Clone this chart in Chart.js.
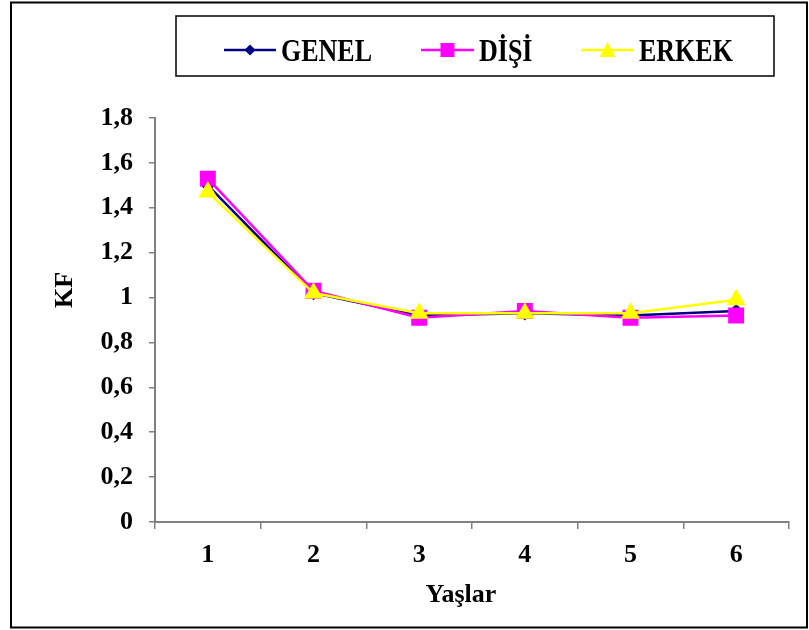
<!DOCTYPE html>
<html>
<head>
<meta charset="utf-8">
<script src="https://cdn.jsdelivr.net/npm/chart.js@4/dist/chart.umd.min.js"></script>
<style>
  html, body { margin: 0; padding: 0; background: #fff; }
  #wrap { position: relative; width: 809px; height: 630px; }
</style>
</head>
<body>
<div id="wrap"><canvas id="c" width="809" height="630"></canvas></div>
<script>
// ---- data ----
const categories = ['1', '2', '3', '4', '5', '6'];
const seriesNames = ['GENEL', 'DİŞİ', 'ERKEK'];
const genel = [1.50, 1.02, 0.92, 0.93, 0.92, 0.94];
const disi  = [1.53, 1.03, 0.91, 0.94, 0.91, 0.92];
const erkek = [1.47, 1.02, 0.93, 0.93, 0.93, 0.99];
const yTickLabels = ['0', '0,2', '0,4', '0,6', '0,8', '1', '1,2', '1,4', '1,6', '1,8'];
const xTitle = 'Yaşlar';
const yTitle = 'KF';

const FONT = "'Liberation Serif', 'Times New Roman', serif";

const decorPlugin = {
  id: 'decor',
  afterDraw(chart) {
    const ctx = chart.ctx;
    ctx.save();
    // outer frame
    ctx.strokeStyle = '#000';
    ctx.lineWidth = 2;
    ctx.strokeRect(11, 2.5, 796, 625);
    // legend frame
    ctx.lineWidth = 1.5;
    ctx.strokeRect(176, 16, 598, 60);

    const cy = 50;
    const entries = [
      { x0: 224, x1: 276, tx: 281 },
      { x0: 421, x1: 474, tx: 479 },
      { x0: 581, x1: 634, tx: 639 }
    ];
    chart.data.datasets.forEach((ds, i) => {
      const e = entries[i];
      ctx.strokeStyle = ds.borderColor;
      ctx.lineWidth = 2.5;
      ctx.beginPath();
      ctx.moveTo(e.x0, cy); ctx.lineTo(e.x1, cy); ctx.stroke();
      const mx = (e.x0 + e.x1) / 2;
      ctx.fillStyle = ds.pointBackgroundColor;
      ctx.beginPath();
      if (ds.pointStyle === 'rectRot') {
        ctx.moveTo(mx, cy - 5.5); ctx.lineTo(mx + 5.5, cy);
        ctx.lineTo(mx, cy + 5.5); ctx.lineTo(mx - 5.5, cy); ctx.closePath();
      } else if (ds.pointStyle === 'rect') {
        ctx.rect(mx - 7, cy - 7, 14, 14);
      } else {
        ctx.moveTo(mx, cy - 8); ctx.lineTo(mx + 8, cy + 7);
        ctx.lineTo(mx - 8, cy + 7); ctx.closePath();
      }
      ctx.fill();
      // label
      ctx.save();
      ctx.fillStyle = '#000';
      ctx.font = 'bold 26px ' + FONT;
      ctx.textAlign = 'left';
      ctx.textBaseline = 'alphabetic';
      ctx.translate(e.tx, 61);
      ctx.scale(1, 1.18);
      ctx.fillText(ds.label, 0, 0);
      ctx.restore();
    });

    // axis titles
    ctx.fillStyle = '#000';
    ctx.font = 'bold 26px ' + FONT;
    ctx.textAlign = 'center';
    ctx.textBaseline = 'alphabetic';
    ctx.fillText(xTitle, 461, 602);
    ctx.save();
    ctx.translate(72, 290);
    ctx.rotate(-Math.PI / 2);
    ctx.fillText(yTitle, 0, 0);
    ctx.restore();
    ctx.restore();
  }
};

const chart = new Chart(document.getElementById('c'), {
  type: 'line',
  data: {
    labels: categories,
    datasets: [
      { label: seriesNames[0], data: genel, borderColor: '#000080', backgroundColor: '#000080',
        pointBackgroundColor: '#000080', pointBorderColor: '#000080', pointStyle: 'rectRot',
        pointRadius: 5.5, borderWidth: 2.5, order: 2 },
      { label: seriesNames[1], data: disi, borderColor: '#FF00FF', backgroundColor: '#FF00FF',
        pointBackgroundColor: '#FF00FF', pointBorderColor: '#FF00FF', pointStyle: 'rect',
        pointRadius: 9.5, borderWidth: 2.5, order: 1 },
      { label: seriesNames[2], data: erkek, borderColor: '#FFFF00', backgroundColor: '#FFFF00',
        pointBackgroundColor: '#FFFF00', pointBorderColor: '#FFFF00', pointStyle: 'triangle',
        pointRadius: 8.5, borderWidth: 2.5, order: 0 }
    ]
  },
  options: {
    responsive: false,
    animation: false,
    events: [],
    layout: { padding: { top: 118, right: 20, left: 20, bottom: 0 } },
    plugins: { legend: { display: false }, tooltip: { enabled: false } },
    elements: { line: { tension: 0 }, point: { borderWidth: 0 } },
    scales: {
      x: {
        type: 'category',
        offset: true,
        grid: { offset: true, drawOnChartArea: false, drawTicks: true, tickLength: 7, color: '#808080', lineWidth: 1.5 },
        border: { display: true, color: '#808080', width: 2 },
        ticks: { color: '#000', font: { family: FONT, size: 26, weight: 'bold' }, padding: 11, maxRotation: 0 },
        afterFit(scale) { scale.height = 108; }
      },
      y: {
        min: 0, max: 1.8,
        grid: { drawOnChartArea: false, drawTicks: true, tickLength: 6, color: '#808080', lineWidth: 1.5 },
        border: { display: true, color: '#808080', width: 2 },
        ticks: {
          stepSize: 0.2,
          color: '#000',
          font: { family: FONT, size: 26, weight: 'bold' },
          padding: 16,
          callback: (v, i) => yTickLabels[i]
        },
        afterFit(scale) { scale.width = 135; }
      }
    }
  },
  plugins: [decorPlugin]
});
</script>
</body>
</html>
